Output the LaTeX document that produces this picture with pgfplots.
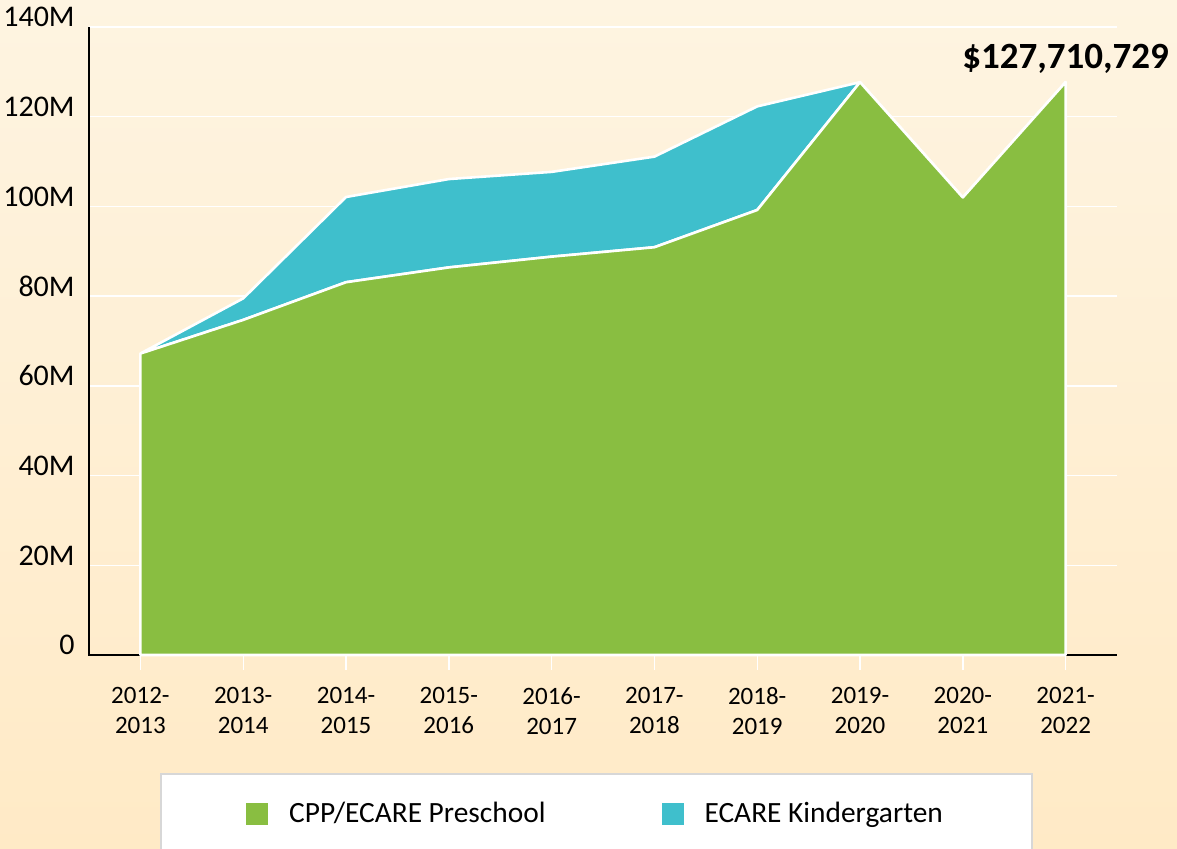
\documentclass[border=0pt]{standalone}
\usepackage{pgfplots}
\pgfplotsset{compat=1.18}
\usepackage{fontspec}
\setmainfont{Carlito}
\definecolor{preschool}{RGB}{137,190,65}
\definecolor{kinder}{RGB}{63,191,204}
\definecolor{bgtop}{RGB}{254,244,225}
\definecolor{bgbot}{RGB}{255,234,198}
\definecolor{legborder}{RGB}{215,215,215}
\begin{document}
\begin{tikzpicture}
\path[use as bounding box] (-44.5pt,-97pt) rectangle (544pt,327.5pt);
\clip (-44.5pt,-97pt) rectangle (544pt,327.5pt);
\shade[top color=bgtop, bottom color=bgbot] (-44.5pt,-97pt) rectangle (544pt,327.5pt);
\begin{axis}[
  at={(0pt,0pt)}, anchor=south west,
  scale only axis, width=514pt, height=314pt,
  xmin=-0.5, xmax=9.5, ymin=0, ymax=140,
  stack plots=y,
  clip=false,
  axis x line*=bottom, axis y line*=left,
  axis line style={draw=none},
  xtick={0,...,9},
  xticklabels={{2012-\\2013},{2013-\\2014},{2014-\\2015},{2015-\\2016},{2016-\\2017},{2017-\\2018},{2018-\\2019},{2019-\\2020},{2020-\\2021},{2021-\\2022}},
  ytick={0,20,...,140},
  yticklabels={0,20M,40M,60M,80M,100M,120M,140M},
  ymajorgrids, grid style={white, line width=0.75pt},
  tick align=outside,
  major tick length=7.5pt,
  xtick style={white, line width=0.7pt},
  ytick style={draw=none},
  xticklabel style={align=center, font=\fontsize{12.5}{15}\selectfont, inner sep=0pt, anchor=north, yshift=-8.5pt},
  yticklabel style={font=\fontsize{15}{17}\selectfont, anchor=base east, inner sep=0pt, xshift=0.5pt},
  legend columns=2,
  legend style={at={(0.4937,-0.1879)}, anchor=north, draw=legborder, line width=0.8pt, fill=white,
    font=\fontsize{14.7}{17}\selectfont, inner xsep=42.5pt, inner ysep=12pt,
    /tikz/every odd column/.append style={column sep=8.5pt},
    /tikz/every even column/.append style={column sep=56pt}},
  legend image code/.code={\path[#1, draw=none] (0pt,-5.5pt) rectangle (11pt,5.5pt);},
]
\addplot[fill=preschool, draw=white, line width=1.3pt, line join=round] coordinates {
  (0,67.2) (1,74.7) (2,83.1) (3,86.4) (4,88.8) (5,90.9) (6,99.2) (7,127.7) (8,102.0) (9,127.710729)
} \closedcycle;
\addlegendentry{CPP/ECARE Preschool}
\addplot[fill=kinder, draw=white, line width=1.3pt, line join=round] coordinates {
  (0,0) (1,4.8) (2,19.0) (3,19.7) (4,18.9) (5,20.2) (6,23.1) (7,0) (8,0) (9,0)
} \closedcycle;
\addlegendentry{ECARE Kindergarten}
\draw[black, line width=1pt] (axis cs:-0.5,140) -- (axis cs:-0.5,0) -- (axis cs:9.5,0);
\node[anchor=base, yshift=7pt, font=\bfseries\fontsize{18.5}{22}\selectfont] at (axis cs:9,127.710729) {\$127,710,729};
\end{axis}
\end{tikzpicture}
\end{document}
